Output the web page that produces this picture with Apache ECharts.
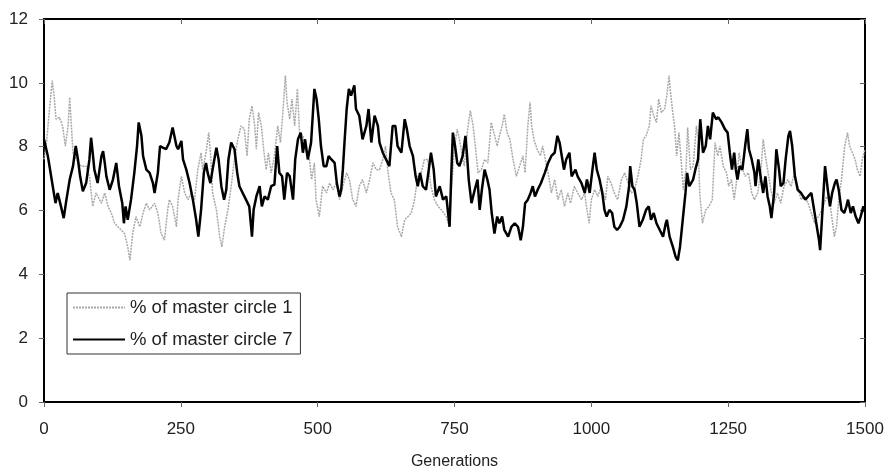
<!DOCTYPE html>
<html>
<head>
	<meta charset="utf-8">
	<title>master circles</title>
	<script src="https://cdn.jsdelivr.net/npm/echarts@6/dist/echarts.min.js"></script>
</head>
<body style="margin:0;background:#fff">
	<div id="main" style="width: 890px;height: 471px"></div>
	<script type="text/javascript">
		var myChart = echarts.init(document.getElementById('main'));

		var seriesNames = ['% of master circle 1', '% of master circle 7'];
		var xTicks = {min: 0, max: 1500, step: 250};
		var yTicks = {min: 0, max: 12, step: 2};

		// [generation, percent]
		var circle1 = [[0,7.6],[5,8.2],[10,9.18],[15,10.07],[19,9.49],[22,8.86],[28,8.92],[34,8.65],[39,8.02],[44,8.65],[47,9.55],[50,8.65],[53,7.81],[59,7.60],[68,7.39],[77,7.39],[83,7.07],[89,6.13],[95,6.55],[105,6.23],[111,6.55],[117,6.13],[123,5.92],[129,5.60],[135,5.49],[141,5.39],[147,5.28],[153,4.86],[157,4.44],[162,5.28],[168,5.81],[175,5.49],[181,5.92],[187,6.23],[193,6.02],[202,6.23],[208,5.92],[214,5.28],[220,5.07],[226,6.02],[229,6.34],[235,6.13],[242,5.49],
			[245,6.34],[251,7.07],[257,6.55],[263,6.34],[269,6.55],[275,6.34],[281,7.28],[287,7.81],[290,7.28],[296,7.81],[301,8.44],[305,7.60],[308,6.55],[315,6.02],[321,5.18],[325,4.86],[330,5.49],[336,6.02],[342,6.76],[348,7.60],[354,8.23],[360,8.65],[366,8.55],[371,7.71],[375,8.86],[380,9.28],[385,8.65],[388,7.92],[392,9.07],[397,8.65],[402,7.81],[406,7.28],[410,7.81],[415,7.18],[421,7.71],[427,8.65],[432,8.13],[436,8.97],[441,10.23],[444,9.39],[449,8.86],[453,9.49],[458,8.65],[463,9.81],[467,8.44],[473,8.34],[479,7.81],[485,7.60],[489,6.97],[494,7.49],
			[497,6.34],[503,5.81],[509,6.76],[516,6.55],[522,6.86],[528,6.65],[534,6.86],[540,6.34],[546,6.76],[553,7.18],[558,6.97],[564,6.34],[570,6.13],[576,6.76],[582,6.97],[589,6.55],[595,6.97],[601,7.49],[607,7.28],[613,7.28],[619,7.60],[624,8.02],[628,7.28],[634,6.55],[640,6.34],[646,5.49],[653,5.18],[659,5.71],[665,5.81],[671,5.92],[677,6.34],[683,7.07],[689,7.18],[695,7.60],[701,7.60],[707,6.76],[713,6.34],[720,6.13],[726,6.02],[735,5.81],[741,5.49],
			[744,6.55],[750,8.02],[755,8.55],[759,8.23],[764,7.71],[768,7.39],[774,8.55],[779,9.13],[784,8.65],[788,8.02],[793,7.18],[799,7.28],[805,7.60],[811,7.49],[817,8.76],[822,8.44],[828,8.02],[832,8.34],[837,8.65],[841,9.02],[846,8.44],[851,8.23],[857,7.60],[863,7.07],[869,7.39],[875,7.71],[879,7.18],[884,8.65],[888,9.39],[891,8.65],[895,8.23],[901,7.92],[907,7.71],[911,8.02],[916,7.60],[921,7.18],[927,6.55],[933,6.97],[939,6.34],[945,6.65],[951,6.13],[957,6.55],[962,6.23],[969,6.76],[975,6.55],[982,6.34],[988,6.55],
			[991,6.13],[996,5.60],[1000,6.34],[1006,6.65],[1012,6.44],[1018,6.76],[1026,6.34],[1030,7.07],[1036,6.86],[1042,6.55],[1048,6.34],[1055,6.97],[1061,7.18],[1067,6.86],[1073,6.55],[1079,6.65],[1085,7.07],[1091,7.60],[1095,8.23],[1100,8.34],[1106,8.65],[1109,9.28],[1114,8.97],[1119,8.76],[1123,9.49],[1128,9.07],[1134,9.18],[1138,9.60],[1142,10.23],[1144,9.81],[1148,9.18],[1152,8.65],[1156,7.71],[1160,8.44],[1164,7.60],[1168,6.65],[1173,7.28],[1176,8.60],[1181,7.28],[1186,7.39],[1192,8.65],[1195,8.23],[1198,6.55],[1203,5.60],[1209,6.02],[1215,6.13],[1221,6.34],
			[1226,8.13],[1231,7.71],[1235,8.02],[1241,7.39],[1247,7.18],[1251,6.76],[1256,6.97],[1261,6.34],[1265,6.86],[1270,7.81],[1274,7.39],[1281,7.07],[1287,7.18],[1293,6.55],[1298,6.34],[1304,6.55],[1310,7.28],[1314,8.23],[1318,7.71],[1323,7.18],[1328,6.65],[1334,6.23],[1340,6.55],[1346,6.23],[1352,6.76],[1359,6.97],[1365,6.76],[1371,7.18],[1377,6.76],[1383,6.34],[1390,6.44],[1396,6.23],[1402,5.92],[1408,5.60],[1415,5.81],[1421,6.02],[1430,6.44],[1436,6.23],[1440,5.71],[1444,5.18],[1448,5.49],[1452,6.34],[1457,6.97],[1463,8.02],[1468,8.44],[1472,8.02],[1477,7.81],[1482,7.60],[1486,7.28],[1491,7.07],[1495,7.60],[1500,7.92]];

		var circle7 = [[0,8.23],[7,7.71],[16,6.76],[21,6.23],[25,6.55],[28,6.34],[31,6.13],[36,5.76],[41,6.34],[47,6.97],[53,7.39],[58,8.02],[62,7.60],[66,7.07],[71,6.60],[77,6.86],[83,7.60],[86,8.28],[89,7.81],[92,7.28],[98,6.86],[105,7.71],[108,7.86],[111,7.49],[114,7.07],[120,6.65],[126,6.97],[132,7.49],[137,6.76],[143,6.23],[146,5.60],[149,6.13],[153,5.71],[159,6.34],[165,7.18],[170,8.02],[173,8.76],[178,8.34],[181,7.71],[187,7.28],[193,7.18],[199,6.86],[202,6.55],[208,7.18],[212,8.02],[217,7.97],[223,7.92],[229,8.13],[235,8.60],[242,8.02],
			[245,7.92],[251,8.18],[254,7.60],[260,7.28],[266,6.86],[272,6.34],[278,5.71],[282,5.18],[287,6.02],[292,7.18],[296,7.49],[299,7.18],[304,6.86],[308,7.28],[315,7.97],[319,7.60],[324,6.76],[329,6.34],[333,6.65],[337,7.60],[342,8.13],[348,7.92],[353,7.18],[357,6.76],[363,6.55],[369,6.34],[375,6.13],[380,5.18],[383,6.02],[388,6.44],[394,6.76],[398,6.13],[403,6.44],[409,6.34],[415,6.76],[421,6.81],[426,8.02],[430,7.18],[435,7.07],[439,6.34],[444,7.18],[449,7.07],[455,6.34],[459,7.60],[464,8.23],[469,8.44],[473,7.81],[477,8.23],[482,7.60],[488,8.13],
			[494,9.81],[498,9.49],[502,8.86],[506,8.02],[511,7.39],[516,7.39],[520,7.71],[525,7.60],[531,7.49],[535,6.86],[540,6.44],[543,6.65],[546,7.28],[549,8.13],[553,9.18],[557,9.81],[561,9.60],[567,9.92],[570,9.18],[576,8.97],[582,8.23],[589,8.65],[593,9.18],[598,8.13],[604,8.97],[610,8.65],[613,8.13],[619,7.81],[625,7.60],[631,7.39],[637,8.65],[642,8.65],[646,8.02],[653,7.81],[659,8.86],[663,8.55],[668,8.02],[674,7.71],[679,7.07],[683,6.76],[687,7.18],[692,6.76],[698,6.65],[703,7.28],[707,7.81],[712,7.28],[716,6.44],[723,6.76],[729,6.34],[735,6.44],[741,5.49],
			[744,7.07],[747,8.44],[751,8.02],[755,7.49],[759,7.39],[765,7.71],[770,8.34],[773,7.71],[776,6.97],[781,6.23],[787,6.65],[792,6.97],[796,6.02],[800,6.65],[805,7.28],[810,6.97],[814,6.65],[818,5.92],[823,5.28],[828,5.81],[832,5.60],[837,5.81],[841,5.39],[848,5.18],[854,5.49],[860,5.60],[866,5.49],[871,5.07],[875,5.49],[879,6.23],[884,6.34],[889,6.55],[893,6.76],[897,6.44],[902,6.65],[908,6.86],[915,7.18],[921,7.49],[927,7.71],[933,7.81],[938,8.34],[942,8.13],[945,7.81],[950,7.28],[954,7.60],[960,7.81],[964,7.07],[971,7.28],[975,7.07],[982,6.86],
			[988,6.55],[992,6.97],[997,6.55],[1002,7.28],[1006,7.81],[1010,7.28],[1015,6.97],[1020,6.55],[1024,6.02],[1028,5.81],[1033,6.02],[1038,5.92],[1042,5.49],[1047,5.39],[1052,5.49],[1058,5.71],[1064,6.13],[1069,6.76],[1071,7.39],[1075,6.76],[1079,6.65],[1083,6.23],[1088,5.49],[1094,5.71],[1100,6.02],[1105,6.13],[1109,5.71],[1114,5.92],[1119,5.60],[1125,5.39],[1131,5.18],[1136,5.60],[1138,5.71],[1143,5.18],[1149,4.86],[1154,4.55],[1158,4.44],[1162,4.86],[1167,5.71],[1172,6.55],[1175,7.18],[1179,6.76],[1186,6.97],[1190,7.28],[1195,7.60],[1199,8.86],[1204,7.81],[1209,8.02],[1213,8.65],[1217,8.23],[1222,9.07],[1228,8.86],
			[1232,8.92],[1238,8.76],[1244,8.55],[1249,8.44],[1253,7.81],[1257,7.28],[1261,7.81],[1264,7.28],[1267,6.97],[1271,7.39],[1276,7.28],[1281,8.02],[1285,8.55],[1288,7.92],[1293,7.60],[1298,7.18],[1300,6.76],[1305,7.60],[1310,6.97],[1314,6.55],[1318,7.07],[1322,6.44],[1326,6.13],[1329,5.76],[1334,6.55],[1338,7.92],[1343,7.28],[1346,6.76],[1351,6.86],[1355,7.60],[1360,8.34],[1363,8.49],[1367,8.02],[1372,7.07],[1377,6.65],[1383,6.55],[1387,6.44],[1391,6.34],[1396,6.44],[1402,6.55],[1407,6.02],[1412,5.49],[1416,5.07],[1418,4.76],[1422,5.92],[1427,7.39],[1432,6.65],[1436,6.13],[1440,6.55],[1445,6.86],[1448,6.97],[1452,6.65],[1457,6.02],[1462,5.92],[1466,6.13],[1469,6.34],[1474,5.92],[1478,6.13],[1483,5.81],[1488,5.60],[1492,5.81],[1497,6.13],[1500,5.95]];

		var font = 'Liberation Sans';
		var tickStyle = {color: '#666', width: 1};

		// the original ticks cross the axis, so a second axis draws the inner half
		function xAx(inner) {
			return {
				type: 'value',
				min: xTicks.min, max: xTicks.max, interval: xTicks.step,
				name: inner ? '' : 'Generations',
				nameLocation: 'middle',
				nameGap: 52,
				nameTextStyle: {fontFamily: font, fontSize: 16, color: '#222'},
				axisLine: {show: !inner, onZero: false, lineStyle: {color: '#000', width: 2}},
				axisTick: {show: true, inside: inner, length: 5, lineStyle: tickStyle},
				axisLabel: {
					show: !inner, margin: 19, fontFamily: font, fontSize: 17, color: '#222',
					formatter: function (v) { return String(v); }
				},
				splitLine: {show: false}
			};
		}
		function yAx(inner) {
			return {
				type: 'value',
				min: yTicks.min, max: yTicks.max, interval: yTicks.step,
				axisLine: {show: !inner, onZero: false, lineStyle: {color: '#000', width: 2}},
				axisTick: {show: true, inside: inner, length: 5, lineStyle: tickStyle},
				axisLabel: {show: !inner, margin: 16, fontFamily: font, fontSize: 17, color: '#222'},
				splitLine: {show: false}
			};
		}

		var option = {
			backgroundColor: '#fff',
			animation: false,
			grid: {
				left: 44, right: 25, top: 19, bottom: 69,
				outerBoundsMode: 'none',
				show: true,
				borderColor: '#000',
				borderWidth: 2,
				backgroundColor: 'transparent'
			},
			xAxis: [xAx(false), xAx(true)],
			yAxis: [yAx(false), yAx(true)],
			legend: {
				orient: 'vertical',
				left: 67,
				top: 293,
				padding: [5, 8, 5, 5],
				itemGap: 13,
				itemWidth: 52,
				itemHeight: 14,
				itemStyle: {opacity: 0},	// line only, no marker
				backgroundColor: '#fff',
				borderColor: '#333',
				borderWidth: 1,
				textStyle: {fontFamily: font, fontSize: 18.5, color: '#222'},
				data: seriesNames
			},
			series: [
				{
					name: seriesNames[0],
					type: 'line',
					data: circle1,
					showSymbol: false,
					symbol: 'none',
					lineStyle: {color: '#a8a8a8', width: 1.5, type: [2, 1]},
					itemStyle: {color: '#a8a8a8'}
				},
				{
					name: seriesNames[1],
					type: 'line',
					data: circle7,
					showSymbol: false,
					symbol: 'none',
					lineStyle: {color: '#000', width: 2.5},
					itemStyle: {color: '#000'}
				}
			]
		};

		myChart.setOption(option);
	</script>
</body>
</html>
